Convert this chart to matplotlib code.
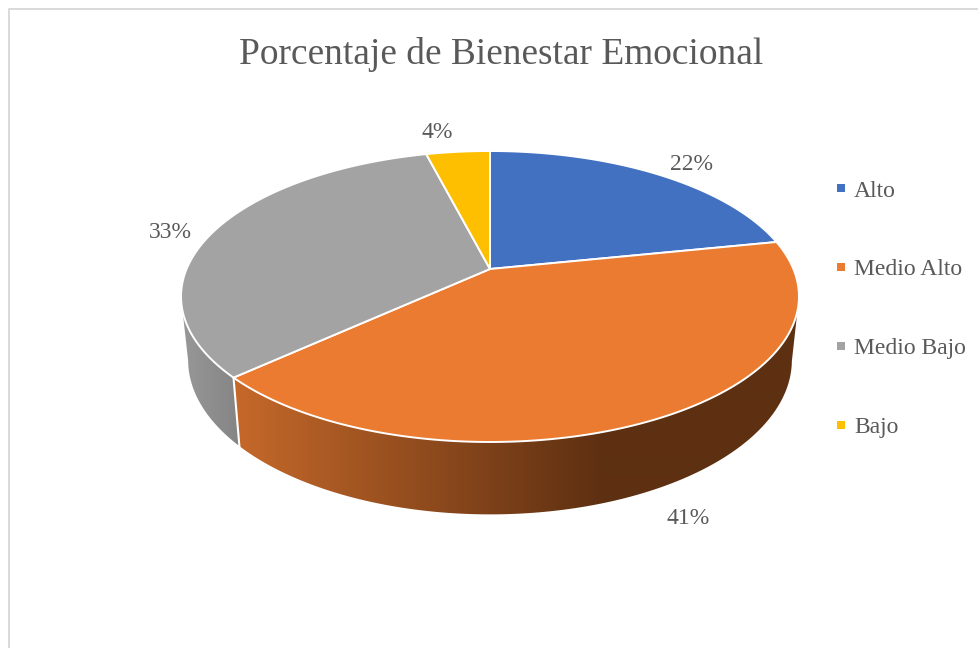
import numpy as np
import matplotlib.pyplot as plt
from matplotlib.lines import Line2D
from matplotlib.patches import Polygon

plt.rcParams['font.family'] = ['Liberation Serif', 'DejaVu Serif']

titulo = "Porcentaje de Bienestar Emocional"
categorias = ["Alto", "Medio Alto", "Medio Bajo", "Bajo"]
# slice sizes, labels show them rounded
porcentajes = [21.8, 41.4, 32.8, 4.0]
colores = ["#4271C1", "#EB7B30", "#A3A3A3", "#FDBF00"]
gris_texto = "#595959"

# pie placement in pixels
cx, cy = 490, 269
a, b, k = 303.4, 140.3, 0.189


def top(t):
    x, y = np.sin(t), -np.cos(t)
    d = 1 - k * y
    return cx + a * x / d, cy + b * y / d


def bottom(t):
    x, y = np.sin(t), -np.cos(t)
    d = 1 - k * y
    return cx + 0.977 * a * x / d, 331 + 1.06 * b * y / d


fig = plt.figure(figsize=(9.79, 6.48), dpi=100)
ax = fig.add_axes([0, 0, 1, 1])
ax.set_xlim(0, 979)
ax.set_ylim(648, 0)
ax.axis("off")

# frame, runs off right and bottom
ax.plot([979, 9, 9], [9, 9, 648], color="#D9D9D9", lw=1.4, zorder=1)

total = sum(porcentajes)
bordes = np.radians(np.cumsum([0] + porcentajes) * 360 / total)

# side wall: gradient image clipped to the wall outline
sombra = {
    1: ((198, 105, 42), (94, 48, 18), 232, 600),
    2: ((152, 152, 152), (132, 132, 132), 181, 240),
}
for i, (c0, c1, x0, x1) in sombra.items():
    ts = np.linspace(bordes[i], bordes[i + 1], 400)
    # from one widest point of the rim to the other, front side only
    ts = ts[np.cos(ts) <= -k]
    xt, yt = top(ts)
    xb, yb = bottom(ts)
    contorno = list(zip(xt, yt)) + list(zip(xb[::-1], yb[::-1]))
    muro = Polygon(contorno, closed=True, facecolor="none", edgecolor="none", zorder=2)
    ax.add_patch(muro)
    xs = np.arange(160, 820)
    f = np.clip((xs - x0) / (x1 - x0), 0, 1)
    img = np.zeros((1, len(xs), 3))
    for j in range(3):
        img[0, :, j] = (c0[j] + (c1[j] - c0[j]) * f) / 255
    im = ax.imshow(img, extent=(160, 820, 540, 240), aspect="auto", interpolation="bilinear",
                   zorder=2)
    im.set_clip_path(muro)
ax.set_xlim(0, 979)
ax.set_ylim(648, 0)

xa, ya = top(bordes[2])
xb, yb = bottom(bordes[2])
ax.plot([xa, xb], [ya, yb], color="white", lw=1.5, zorder=3)

# top surface
for i in range(len(porcentajes)):
    ts = np.linspace(bordes[i], bordes[i + 1], 200)
    px, py = top(ts)
    pts = [(cx, cy)] + list(zip(px, py))
    ax.add_patch(Polygon(pts, closed=True, facecolor=colores[i], edgecolor="white",
                         lw=1.4, joinstyle="round", zorder=4))

ax.text(501, 55, titulo, color=gris_texto, fontsize=26.9, ha="center", va="center")

pos_etiquetas = [(692, 164), (688, 518), (170, 232), (437, 133)]
for v, (x, y) in zip(porcentajes, pos_etiquetas):
    ax.text(x, y, f"{v:.0f}%", color=gris_texto, fontsize=17, ha="center", va="center", zorder=5)

marcas = [Line2D([], [], ls="none", marker="s", ms=5.2, color=c, mew=0) for c in colores]
ax.legend(marcas, categorias, loc="upper left", bbox_to_anchor=(832 / 979, 1 - 180 / 648),
          frameon=False, fontsize=17, labelcolor=gris_texto, labelspacing=2.43,
          handlelength=0.8, handletextpad=0.13, borderpad=0, borderaxespad=0)

fig.savefig("out.png", dpi=100)
